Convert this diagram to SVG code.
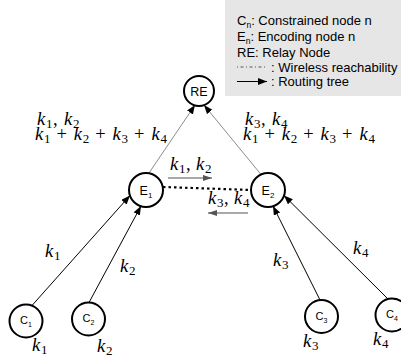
<svg xmlns="http://www.w3.org/2000/svg" width="401" height="357" viewBox="0 0 401 357">
<style>
.node circle{fill:#fff;stroke:#000;stroke-width:2}
.nl{font-family:"Liberation Sans",Arial,sans-serif;fill:#000}
.lg{font-family:"Liberation Sans",Arial,sans-serif;font-size:13px;fill:#000}
.m{font-family:"Liberation Serif","Times New Roman",serif;font-size:18.5px;fill:#000}
.i{font-style:italic}
.s{font-size:13px}
.blk{stroke:#000;stroke-width:1;fill:none}
.gry{stroke:#8c8c8c;stroke-width:1;fill:none}
</style>
<defs>
<marker id="ab" markerUnits="userSpaceOnUse" markerWidth="10" markerHeight="8" refX="9" refY="3.5" orient="auto">
<path d="M0,0 L9,3.5 L0,7 z" fill="#000"/>
</marker>
<marker id="ag" markerUnits="userSpaceOnUse" markerWidth="10" markerHeight="8" refX="9" refY="3" orient="auto">
<path d="M0,0 L9,3 L0,6 z" fill="#555"/>
</marker>
</defs>
<g id="legend">
<rect x="225" y="0" width="176" height="96" fill="#e6e6e6"/>
<text class="lg" x="237" y="24.5">C<tspan font-size="8.5" dy="3">n</tspan><tspan dy="-3">: Constrained node n</tspan></text>
<text class="lg" x="237" y="40.5">E<tspan font-size="8.5" dy="3">n</tspan><tspan dy="-3">: Encoding node n</tspan></text>
<text class="lg" x="237" y="56.5">RE: Relay Node</text>
<line x1="237" y1="67" x2="267" y2="67" stroke="#555" stroke-width="1" stroke-dasharray="1,2.5,3,2.5"/>
<text class="lg" x="271" y="71.5">: Wireless reachability</text>
<line x1="237" y1="81.5" x2="267" y2="81.5" class="blk" marker-end="url(#ab)"/>
<text class="lg" x="271" y="86">: Routing tree</text>
</g>
<g id="connectors">
<line class="gry" x1="149" y1="173" x2="195" y2="105" marker-end="url(#ab)"/>
<line class="gry" x1="261" y1="174.5" x2="204" y2="105" marker-end="url(#ab)"/>
<line class="blk" x1="32" y1="305.5" x2="130" y2="195.5" marker-end="url(#ab)"/>
<line class="blk" x1="89" y1="302.5" x2="141" y2="206" marker-end="url(#ab)"/>
<line class="blk" x1="320" y1="300" x2="273" y2="206" marker-end="url(#ab)"/>
<line class="blk" x1="388" y1="299" x2="284" y2="195.5" marker-end="url(#ab)"/>
<line x1="163" y1="187" x2="251" y2="190" stroke="#000" stroke-width="2.2" stroke-dasharray="2.5,3"/>
<line x1="168" y1="178" x2="212" y2="178" stroke="#8c8c8c" stroke-width="1.5" marker-end="url(#ag)"/>
<line x1="248" y1="213" x2="208" y2="213" stroke="#8c8c8c" stroke-width="1.5" marker-end="url(#ag)"/>
</g>
<g id="RE" class="node"><circle cx="199" cy="91" r="15"/><text class="nl" x="199" y="95.5" font-size="12.5" text-anchor="middle">RE</text></g>
<g id="E1" class="node"><circle cx="146" cy="190" r="17"/><text class="nl" x="146" y="194.5" font-size="12.5" text-anchor="middle">E<tspan font-size="8" dy="3">1</tspan></text></g>
<g id="E2" class="node"><circle cx="268" cy="190" r="17"/><text class="nl" x="268" y="194.5" font-size="12.5" text-anchor="middle">E<tspan font-size="8" dy="3">2</tspan></text></g>
<g id="C1" class="node"><circle cx="26" cy="321" r="16.5"/><text class="nl" x="26" y="324" font-size="11" text-anchor="middle">C<tspan font-size="7" dy="3">1</tspan></text></g>
<g id="C2" class="node"><circle cx="88.5" cy="319" r="16.5"/><text class="nl" x="88.5" y="322" font-size="11" text-anchor="middle">C<tspan font-size="7" dy="3">2</tspan></text></g>
<g id="C3" class="node"><circle cx="321.5" cy="316.5" r="16.5"/><text class="nl" x="321.5" y="319.5" font-size="11" text-anchor="middle">C<tspan font-size="7" dy="3">3</tspan></text></g>
<g id="C4" class="node"><circle cx="392" cy="315" r="16.5"/><text class="nl" x="392" y="318" font-size="11" text-anchor="middle">C<tspan font-size="7" dy="3">4</tspan></text></g>
<g id="labels">
<text class="m"><tspan class="i" x="37" y="125">k</tspan><tspan class="s" x="46" y="127.5">1</tspan><tspan x="53" y="125">,</tspan><tspan class="i" x="64" y="125">k</tspan><tspan class="s" x="73" y="127.5">2</tspan></text>
<text class="m"><tspan class="i" x="35" y="140">k</tspan><tspan class="s" x="44" y="142.5">1</tspan><tspan x="56.5" y="140">+</tspan><tspan class="i" x="73.8" y="140">k</tspan><tspan class="s" x="82.8" y="142.5">2</tspan><tspan x="95.3" y="140">+</tspan><tspan class="i" x="112.6" y="140">k</tspan><tspan class="s" x="121.6" y="142.5">3</tspan><tspan x="134.1" y="140">+</tspan><tspan class="i" x="151.4" y="140">k</tspan><tspan class="s" x="160.4" y="142.5">4</tspan></text>
<text class="m"><tspan class="i" x="245" y="125">k</tspan><tspan class="s" x="254" y="127.5">3</tspan><tspan x="261" y="125">,</tspan><tspan class="i" x="272" y="125">k</tspan><tspan class="s" x="281" y="127.5">4</tspan></text>
<text class="m"><tspan class="i" x="243" y="140">k</tspan><tspan class="s" x="252" y="142.5">1</tspan><tspan x="264.5" y="140">+</tspan><tspan class="i" x="281.8" y="140">k</tspan><tspan class="s" x="290.8" y="142.5">2</tspan><tspan x="303.3" y="140">+</tspan><tspan class="i" x="320.6" y="140">k</tspan><tspan class="s" x="329.6" y="142.5">3</tspan><tspan x="342.1" y="140">+</tspan><tspan class="i" x="359.4" y="140">k</tspan><tspan class="s" x="368.4" y="142.5">4</tspan></text>
<text class="m"><tspan class="i" x="170" y="170">k</tspan><tspan class="s" x="179" y="172.5">1</tspan><tspan x="186" y="170">,</tspan><tspan class="i" x="196" y="170">k</tspan><tspan class="s" x="205" y="172.5">2</tspan></text>
<text class="m"><tspan class="i" x="208" y="204">k</tspan><tspan class="s" x="217" y="206.5">3</tspan><tspan x="224" y="204">,</tspan><tspan class="i" x="234" y="204">k</tspan><tspan class="s" x="243" y="206.5">4</tspan></text>
<text class="m"><tspan class="i" x="45" y="257">k</tspan><tspan class="s" x="54" y="259.5">1</tspan></text>
<text class="m"><tspan class="i" x="120" y="272">k</tspan><tspan class="s" x="129" y="274.5">2</tspan></text>
<text class="m"><tspan class="i" x="273" y="266">k</tspan><tspan class="s" x="282" y="268.5">3</tspan></text>
<text class="m"><tspan class="i" x="353" y="254">k</tspan><tspan class="s" x="362" y="256.5">4</tspan></text>
<text class="m"><tspan class="i" x="32" y="351">k</tspan><tspan class="s" x="41" y="353.5">1</tspan></text>
<text class="m"><tspan class="i" x="97" y="352">k</tspan><tspan class="s" x="106" y="354.5">2</tspan></text>
<text class="m"><tspan class="i" x="303" y="347">k</tspan><tspan class="s" x="312" y="349.5">3</tspan></text>
<text class="m"><tspan class="i" x="373" y="345">k</tspan><tspan class="s" x="382" y="347.5">4</tspan></text>
</g>
</svg>
